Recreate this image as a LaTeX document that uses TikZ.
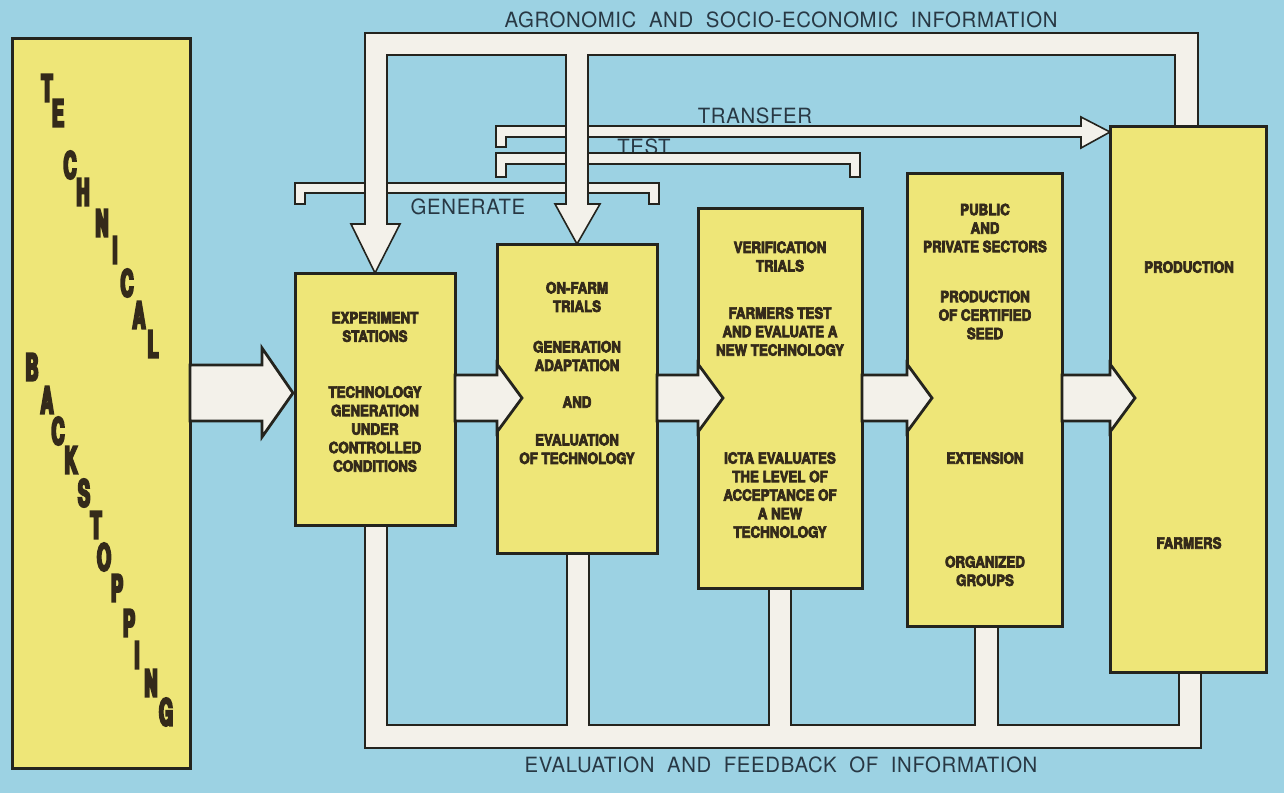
\documentclass[tikz,border=0pt]{standalone}
\usepackage{fontspec}
\usetikzlibrary{calc}
\setmainfont{TeX Gyre Heros}
\newfontfamily\stagefont[FakeStretch=0.86,FakeBold=4.5]{texgyreheros-bold.otf}
\newfontfamily\tallfont[FakeStretch=0.48,FakeBold=6]{texgyreheros-bold.otf}
\newfontfamily\capfont[LetterSpace=3,WordSpace=2,FakeStretch=0.97]{TeX Gyre Heros}

\definecolor{sky}{RGB}{156,210,227}
\definecolor{straw}{RGB}{238,230,120}
\definecolor{pipewhite}{RGB}{243,241,234}
\definecolor{edge}{RGB}{36,36,30}
\definecolor{ink}{RGB}{52,42,26}
\definecolor{slate}{RGB}{40,56,68}

\pgfdeclarelayer{sky}
\pgfdeclarelayer{back}
\pgfsetlayers{sky,back,main}

% fat arrow from one stage box into the next
\newcommand\stagearrow[2]{%
  \draw[flow] (#1.east |- 0,375) -- (#2.west |- 0,375) -- (#2.west |- 0,364)
    -- ($(#2.west |- 0,398)+(25,0)$) -- (#2.west |- 0,432) -- (#2.west |- 0,421)
    -- (#1.east |- 0,421) -- cycle;}

\begin{document}
\begin{tikzpicture}[x=1pt,y=-1pt,
  stage/.style={draw=edge,line width=3pt,fill=straw,outer sep=0pt,inner sep=0pt},
  pipeband/.style={draw=edge,line width=1.6pt,fill=pipewhite,line join=miter},
  flow/.style={draw=edge,line width=2.8pt,fill=pipewhite,line join=miter},
  stagetext/.style={font=\stagefont\fontsize{15.5}{18.5}\selectfont,text=ink,align=center,inner sep=0pt},
  tallletter/.style={font=\tallfont\fontsize{37}{37}\selectfont,text=ink,inner sep=0pt},
  caption/.style={font=\capfont\fontsize{21}{24}\selectfont,text=slate,inner sep=0pt}]

\begin{pgfonlayer}{sky}
  \fill[sky] (0,0) rectangle (1284,793);
\end{pgfonlayer}
\useasboundingbox (0,0) rectangle (1284,793);

% stage boxes
\node[stage,minimum width=178pt,minimum height=730pt] (tb)     at (101,403)   {};
\node[stage,minimum width=160pt,minimum height=252pt] (exp)    at (375,399)   {};
\node[stage,minimum width=160pt,minimum height=309pt] (farm)   at (577,398.5) {};
\node[stage,minimum width=164pt,minimum height=380pt] (verif)  at (780,398)   {};
\node[stage,minimum width=155pt,minimum height=453pt] (sector) at (984.5,399.5) {};
\node[stage,minimum width=156pt,minimum height=546pt] (prod)   at (1188,399)  {};

\begin{pgfonlayer}{back}
  % phase labels and brackets
  \node[caption] (test) at (644,147) {TEST};
  \draw[pipeband] (295,183) -- (659,183) -- (659,204) -- (649,204) -- (649,193)
    -- (305,193) -- (305,204) -- (295,204) -- cycle;
  \draw[pipeband] (496,153) -- (860,153) -- (860,177) -- (850,177) -- (850,164)
    -- (506,164) -- (506,177) -- (496,177) -- cycle;
  \draw[pipeband] (496,126) -- (1081,126) -- (1081,117) -- (prod.west |- 0,132)
    -- (1081,148) -- (1081,137) -- (506,137) -- (506,147) -- (496,147) -- cycle;

  % agronomic and socio-economic information, fed back from production
  \draw[pipeband] (365,224) -- (351,224) -- (exp.north) -- (400,224) -- (387,224)
    -- (387,55) -- (566,55) -- (566,204) -- (555,204) -- (farm.north) -- (600,204)
    -- (588,204) -- (588,55) -- (1175,55) -- (prod.north -| 1175,0)
    -- (prod.north -| 1198,0) -- (1198,33) -- (365,33) -- cycle;

  % evaluation and feedback of information
  \draw[pipeband] (exp.south -| 365,0) -- (365,748) -- (1201,748)
    -- (prod.south -| 1201,0) -- (prod.south -| 1179,0) -- (1179,725) -- (998,725)
    -- (sector.south -| 998,0) -- (sector.south -| 975,0) -- (975,725) -- (791,725)
    -- (verif.south -| 791,0) -- (verif.south -| 769,0) -- (769,725) -- (589,725)
    -- (farm.south -| 589,0) -- (farm.south -| 567,0) -- (567,725) -- (387,725)
    -- (exp.south -| 387,0) -- cycle;
\end{pgfonlayer}

% flow between the stages
\draw[flow] (tb.east |- 0,365) -- ($(exp.west |- 0,365)+(-33,0)$)
  -- ($(exp.west |- 0,348)+(-33,0)$) -- ($(exp.west |- 0,393)+(-2,0)$)
  -- ($(exp.west |- 0,437)+(-33,0)$) -- ($(exp.west |- 0,421)+(-33,0)$)
  -- (tb.east |- 0,421) -- cycle;
\stagearrow{exp}{farm}
\stagearrow{farm}{verif}
\stagearrow{verif}{sector}
\stagearrow{sector}{prod}

% captions
\node[caption] (agro)     at (781,20)  {AGRONOMIC AND SOCIO-ECONOMIC INFORMATION};
\node[caption] (feedback) at (781,765) {EVALUATION AND FEEDBACK OF INFORMATION};
\node[caption] (transfer) at (755,116) {TRANSFER};
\node[caption] (generate) at (468,207) {GENERATE};

% technical backstopping
\foreach \ch/\px/\py [count=\i] in {T/47/88,E/58/113,C/70/165,H/83/192,N/102/223,
    I/115/250,C/127/283,A/139/315,L/153/344}
  \node[tallletter] (tech\i) at (\px,\py) {\ch};
\foreach \ch/\px/\py [count=\i] in {B/32/367,A/47/400,C/58/431,K/71/460,S/84/493,
    T/96/525,O/104/557,P/117/588,P/129/623,I/137/655,N/151/683,G/166/712}
  \node[tallletter] (back\i) at (\px,\py) {\ch};

% stage contents
\node[stagetext] (exp1) at (375,327) {EXPERIMENT\\STATIONS};
\node[stagetext] (exp2) at (375,429) {TECHNOLOGY\\GENERATION\\UNDER\\CONTROLLED\\CONDITIONS};

\node[stagetext] (farm1) at (577,297) {ON-FARM\\TRIALS};
\node[stagetext] (farm2) at (577,356) {GENERATION\\ADAPTATION};
\node[stagetext] (farm3) at (577,402) {AND};
\node[stagetext] (farm4) at (577,449) {EVALUATION\\OF TECHNOLOGY};

\node[stagetext] (verif1) at (780,256.5) {VERIFICATION\\TRIALS};
\node[stagetext] (verif2) at (780,331.5) {FARMERS TEST\\AND EVALUATE A\\NEW TECHNOLOGY};
\node[stagetext] (verif3) at (780,495) {ICTA EVALUATES\\THE LEVEL OF\\ACCEPTANCE OF\\A NEW\\TECHNOLOGY};

\node[stagetext] (sector1) at (985,228) {PUBLIC\\AND\\PRIVATE SECTORS};
\node[stagetext] (sector2) at (985,315) {PRODUCTION\\OF CERTIFIED\\SEED};
\node[stagetext] (sector3) at (985,458) {EXTENSION};
\node[stagetext] (sector4) at (985,571) {ORGANIZED\\GROUPS};

\node[stagetext] (prod1) at (1189,267) {PRODUCTION};
\node[stagetext] (prod2) at (1189,543) {FARMERS};
\end{tikzpicture}
\end{document}
